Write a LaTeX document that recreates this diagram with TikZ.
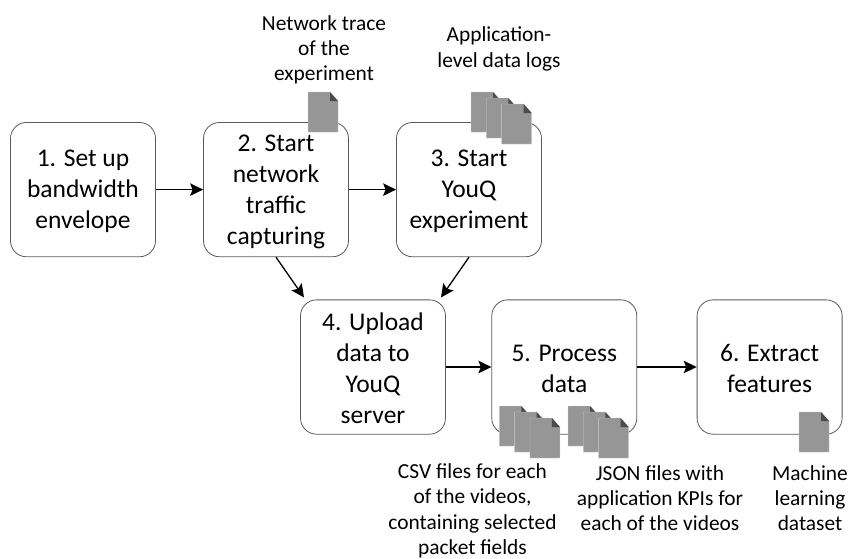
\documentclass[tikz,border=0pt]{standalone}
\usepackage{fontspec}
\setmainfont{Carlito}
\usetikzlibrary{arrows.meta,positioning}
\definecolor{docgray}{RGB}{150,150,150}
\definecolor{docfold}{RGB}{75,75,75}
\definecolor{boxline}{RGB}{90,90,90}
\newcommand{\toprule}{\rule{0pt}{20.5pt}}
\tikzset{
stepbox/.style={draw=boxline,line width=0.8pt,rounded corners=16pt,minimum width=145pt,minimum height=134.3pt,align=center,inner sep=2pt,font=\fontsize{25.5}{31}\selectfont},
notelabel/.style={align=center,inner sep=0pt,font=\fontsize{21.4}{25.3}\selectfont},
flow/.style={-{Stealth[length=13pt,width=12.5pt,inset=2.5pt]},line width=1.3pt},
doc/.pic={
\fill[docgray,draw=black!20,line width=0.3pt] (0,0) -- (22,0) -- (30,9) -- (30,40) -- (0,40) -- cycle;
\fill[docfold] (22,0) -- (30,9) -- (22,9) -- cycle;
},
docstack/.pic={
\pic at (0,0) {doc};
\pic at (15.3,6) {doc};
\pic at (30.6,12) {doc};
}
}
\begin{document}
\begin{tikzpicture}[x=1pt,y=-1pt,node distance=193pt]
\useasboundingbox (0,0) rectangle (853,558);
\node[stepbox] (s1) at (83,189.6) {\toprule 1. Set up\\bandwidth\\envelope};
\node[stepbox] [right of=s1] (s2) {\toprule 2. Start\\network\\traffic\\capturing};
\node[stepbox] [right of=s2] (s3) {\toprule 3. Start\\YouQ\\experiment};
\node[stepbox] (s4) at (373,367) {\toprule 4. Upload\\data to\\YouQ\\server};
\node[stepbox] (s5) at (564.3,367) {\toprule 5. Process\\data};
\node[stepbox] (s6) at (769.6,367) {\toprule 6. Extract\\features};
\draw[flow] (s1) -- (s2);
\draw[flow] (s2) -- (s3);
\draw[flow] (s2.south) -- ([xshift=-69pt,yshift=2pt]s4.north);
\draw[flow] (s3.south) -- ([xshift=68pt,yshift=2pt]s4.north);
\draw[flow] (s4) -- (s5);
\draw[flow] (s5) -- (s6);
\pic at (308,92) {doc};
\pic at (471,92) {docstack};
\pic at (499.3,406) {docstack};
\pic at (568,406) {docstack};
\pic at (799,412) {doc};
\node[notelabel] (trace) at (324,49.6) {Network trace\\of the\\experiment};
\node[notelabel] (logs) at (499,49) {Application-\\[1.5pt]level data logs};
\node[notelabel] (csv) at (472.5,510.7) {CSV files for each\\of the videos,\\containing selected\\packet fields};
\node[notelabel] (json) at (660,498.2) {JSON files with\\application KPIs for\\each of the videos};
\node[notelabel] (ml) at (810,498.2) {Machine\\learning\\dataset};
\end{tikzpicture}
\end{document}
